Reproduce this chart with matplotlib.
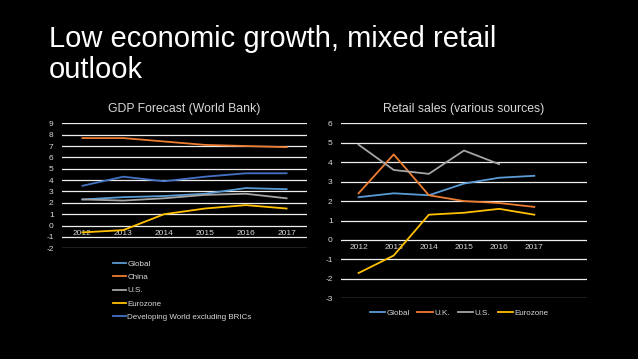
import matplotlib
matplotlib.use('Agg')
import matplotlib.pyplot as plt

plt.rcParams['font.family'] = ['Liberation Sans', 'DejaVu Sans']
plt.rcParams['axes.unicode_minus'] = False

# GDP forecast (World Bank)
years = ['2012', '2013', '2014', '2015', '2016', '2017']
gdp_global = [2.3, 2.5, 2.6, 2.8, 3.3, 3.2]
gdp_china = [7.7, 7.7, 7.4, 7.1, 7.0, 6.9]
gdp_us = [2.3, 2.2, 2.4, 2.7, 2.8, 2.4]
gdp_euro = [-0.6, -0.4, 1.0, 1.5, 1.8, 1.5]
gdp_devel = [3.5, 4.3, 3.9, 4.3, 4.6, 4.6]

# Retail sales (various sources)
retail_global = [2.2, 2.4, 2.3, 2.9, 3.2, 3.3]
retail_uk = [2.4, 4.4, 2.3, 2.0, 1.9, 1.7]
retail_us = [4.9, 3.6, 3.4, 4.6, 3.9, None]
retail_euro = [-1.7, -0.8, 1.3, 1.4, 1.6, 1.3]

c_blue = '#5B9BD5'
c_orange = '#ED7D31'
c_gray = '#A5A5A5'
c_yellow = '#FFC000'
c_dblue = '#4472C4'
txt = '#d9d9d9'

fig = plt.figure(figsize=(6.38, 3.59), dpi=100)
fig.patch.set_facecolor('black')

fig.text(49/638, 1 - 25/359, 'Low economic growth, mixed retail\noutlook',
         color='white', fontsize=21, va='top', ha='left', linespacing=1.12)


def style(ax, ylo, yhi):
    ax.set_facecolor('black')
    ax.set_ylim(ylo, yhi)
    ax.set_yticks(range(ylo, yhi + 1))
    ax.grid(axis='y', color='#eeeeee', linewidth=0.9)
    ax.set_axisbelow(True)
    for s in ax.spines.values():
        s.set_visible(False)
    ax.spines['bottom'].set_position(('data', 0))
    ax.tick_params(axis='both', length=0, colors=txt, labelsize=6)
    ax.tick_params(axis='x', pad=3)
    ax.tick_params(axis='y', pad=6)


x = list(range(len(years)))

ax1 = fig.add_axes([62/638, 1 - 248.3/359, 245/638, 125/359])
style(ax1, -2, 9)
ax1.plot(x, gdp_global, color=c_blue, lw=1.3, label='Global')
ax1.plot(x, gdp_china, color=c_orange, lw=1.3, label='China')
ax1.plot(x, gdp_us, color=c_gray, lw=1.3, label='U.S.')
ax1.plot(x, gdp_euro, color=c_yellow, lw=1.3, label='Eurozone')
ax1.plot(x, gdp_devel, color=c_dblue, lw=1.3, label='Developing World excluding BRICs')
ax1.set_xlim(-0.5, 5.5)
ax1.set_xticks(x)
ax1.set_xticklabels(years)
ax1.set_title('GDP Forecast (World Bank)', color=txt, fontsize=8.8, pad=8)
leg1 = ax1.legend(loc='upper left', bbox_to_anchor=(106/638, 1 - 253/359),
                  bbox_transform=fig.transFigure, frameon=False, fontsize=5.8,
                  handlelength=1.6, handletextpad=0.15, labelspacing=0.7)
for t in leg1.get_texts():
    t.set_color(txt)

ax2 = fig.add_axes([341/638, 1 - 298.3/359, 246/638, 175/359])
style(ax2, -3, 6)
ax2.plot(x, retail_global, color=c_blue, lw=1.3, label='Global')
ax2.plot(x, retail_uk, color=c_orange, lw=1.3, label='U.K.')
ax2.plot(x[:5], retail_us[:5], color=c_gray, lw=1.3, label='U.S.')
ax2.plot(x, retail_euro, color=c_yellow, lw=1.3, label='Eurozone')
ax2.set_xlim(-0.5, 6.5)
ax2.set_xticks(x)
ax2.set_xticklabels(years)
ax2.set_title('Retail sales (various sources)', color=txt, fontsize=8.8, pad=8)
leg2 = ax2.legend(loc='center', bbox_to_anchor=(459/638, 1 - 313/359),
                  bbox_transform=fig.transFigure, frameon=False, fontsize=5.8,
                  ncol=4, handlelength=1.9, handletextpad=0.15, columnspacing=1.0)
for t in leg2.get_texts():
    t.set_color(txt)

fig.savefig('out.png', dpi=100, facecolor='black')
